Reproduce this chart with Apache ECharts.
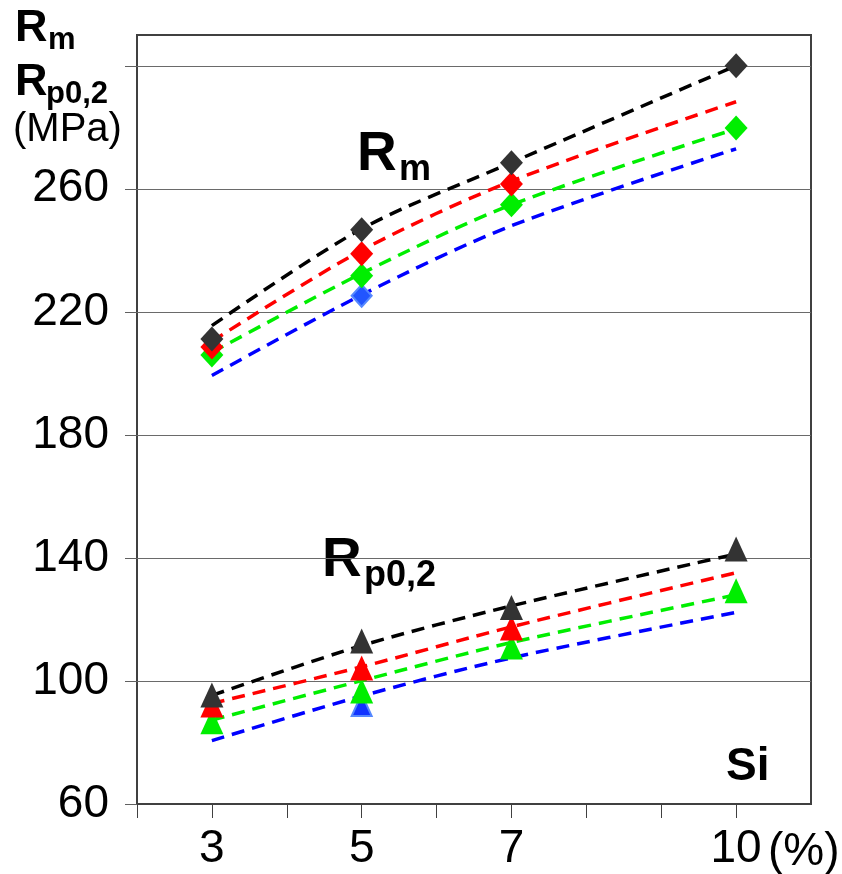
<!DOCTYPE html>
<html>
<head>
<meta charset="utf-8">
<script src="https://cdn.jsdelivr.net/npm/echarts@6/dist/echarts.min.js"></script>
<style>html,body{margin:0;padding:0;background:#fff}#c{width:842px;height:874px}</style>
</head>
<body>
<div id="c"></div>
<script>
// ---- data ----
const siValues = [3, 5, 7, 10];
const xTickLabels = [3, 5, 7, 10];
const yTickLabels = [60, 100, 140, 180, 220, 260];

// Rm markers (diamonds)
const rmBlackPts = [211.2, 246.7, 268.5, 300.0];
const rmRedPts   = [208.6, 238.9, 261.6, null];
const rmGreenPts = [206.0, 231.7, 254.8, 279.8];
const rmBluePts  = [null, 225.2, null, null];
// Rm dashed trend lines
const rmBlackLine = [215.5, 247.0, 268.5, 300.0];
const rmRedLine   = [210.4, 240.0, 262.5, 288.3];
const rmGreenLine = [206.8, 232.5, 254.8, 279.5];
const rmBlueLine  = [199.3, 225.5, 248.0, 273.0];

// Rp0,2 markers (triangles)
const rpBlackPts = [95.4, 113.0, 123.9, 142.9];
const rpRedPts   = [92.2, 104.2, 117.2, null];
const rpGreenPts = [86.7, 96.7, 111.0, 129.3];
const rpBluePts  = [null, 92.2, null, null];
// Rp0,2 dashed trend lines
const rpBlackLine = [95.3, 111.5, 124.4, 141.3];
const rpRedLine   = [92.7, 104.6, 117.6, 135.2];
const rpGreenLine = [87.3, 100.1, 112.5, 128.0];
const rpBlueLine  = [80.6, 95.1, 107.5, 122.3];

const FONT = "'Liberation Sans', Arial, sans-serif";
function pairs(vals){ const out=[]; vals.forEach((v,i)=>{ if(v!=null) out.push([siValues[i], v]); }); return out; }

function lineSeries(vals, color){
  return { type:'line', data:pairs(vals), smooth:0.3, showSymbol:false, silent:true, z:2,
    lineStyle:{ color, width:3.5, type:[13,8], cap:'butt' } };
}
function markerSeries(vals, symbol, size, fill, border, bw){
  return { type:'scatter', data:pairs(vals), symbol, symbolSize:size, z:5, silent:true,
    itemStyle:{ color:fill, borderColor:border||fill, borderWidth:bw||0, opacity:1 } };
}

const chart = echarts.init(document.getElementById('c'), null, {renderer:'canvas'});
chart.setOption({
  animation:false,
  backgroundColor:'#fff',
  grid:{ left:137, right:31, top:35, bottom:70, show:true, borderColor:'#404040', borderWidth:2, backgroundColor:'transparent' },
  xAxis:{ type:'value', min:2, max:11, interval:1,
    axisLine:{ show:true, onZero:false, lineStyle:{ color:'#404040', width:1 } },
    axisTick:{ show:true, length:14, customValues:[2,3,4,5,6,7,8,9,10], lineStyle:{ color:'#404040', width:1 } },
    axisLabel:{ customValues:xTickLabels, formatter:(v)=> String(v), color:'#000', fontSize:46, fontFamily:FONT, margin:22 },
    splitLine:{ show:false } },
  yAxis:{ type:'value', min:60, max:310, interval:40,
    axisLine:{ show:false },
    axisTick:{ show:true, length:12, customValues:[60,100,140,180,220,260,300], lineStyle:{ color:'#606060', width:1 } },
    axisLabel:{ customValues:yTickLabels, color:'#000', fontSize:46, fontFamily:FONT, margin:28 },
    splitLine:{ show:true, lineStyle:{ color:'#6a6a6a', width:1 } } },
  series:[
    lineSeries(rmBlueLine,'#0000ff'), lineSeries(rmGreenLine,'#00ee00'), lineSeries(rmRedLine,'#ff0000'), lineSeries(rmBlackLine,'#000000'),
    lineSeries(rpBlueLine,'#0000ff'), lineSeries(rpGreenLine,'#00ee00'), lineSeries(rpRedLine,'#ff0000'), lineSeries(rpBlackLine,'#000000'),
    markerSeries(rmBluePts,'diamond',[20,22],'#2255ff','#5588ff',2),
    markerSeries(rmGreenPts,'diamond',[23,25],'#00ee00'),
    markerSeries(rmRedPts,'diamond',[23,25],'#ff0000'),
    markerSeries(rmBlackPts,'diamond',[23,25],'#333333'),
    markerSeries(rpBluePts,'triangle',[20,22],'#1133ff','#5588ff',2),
    markerSeries(rpGreenPts,'triangle',[23,25],'#00ee00'),
    markerSeries(rpRedPts,'triangle',[23,25],'#ff0000'),
    markerSeries(rpBlackPts,'triangle',[23,25],'#333333')
  ],
  graphic:[
    { type:'text', left:15, top:6, style:{ text:'R', font:'bold 45px '+FONT, fill:'#000' } },
    { type:'text', left:48, top:25, style:{ text:'m', font:'bold 31px '+FONT, fill:'#000' } },
    { type:'text', left:15, top:60, style:{ text:'R', font:'bold 45px '+FONT, fill:'#000' } },
    { type:'text', left:46, top:79, style:{ text:'p0,2', font:'bold 31px '+FONT, fill:'#000' } },
    { type:'text', left:13, top:110, style:{ text:'(MPa)', font:'40px '+FONT, fill:'#000' } },
    { type:'text', left:357, top:127, style:{ text:'R', font:'bold 55px '+FONT, fill:'#000' } },
    { type:'text', left:399, top:152, style:{ text:'m', font:'bold 36px '+FONT, fill:'#000' } },
    { type:'text', left:322, top:533, style:{ text:'R', font:'bold 55px '+FONT, fill:'#000' } },
    { type:'text', left:364, top:558, style:{ text:'p0,2', font:'bold 36px '+FONT, fill:'#000' } },
    { type:'text', left:726, top:744, style:{ text:'Si', font:'bold 46px '+FONT, fill:'#000' } },
    { type:'text', left:768, top:829, style:{ text:'(%)', font:'46px '+FONT, fill:'#000' } }
  ]
});
</script>
</body>
</html>
